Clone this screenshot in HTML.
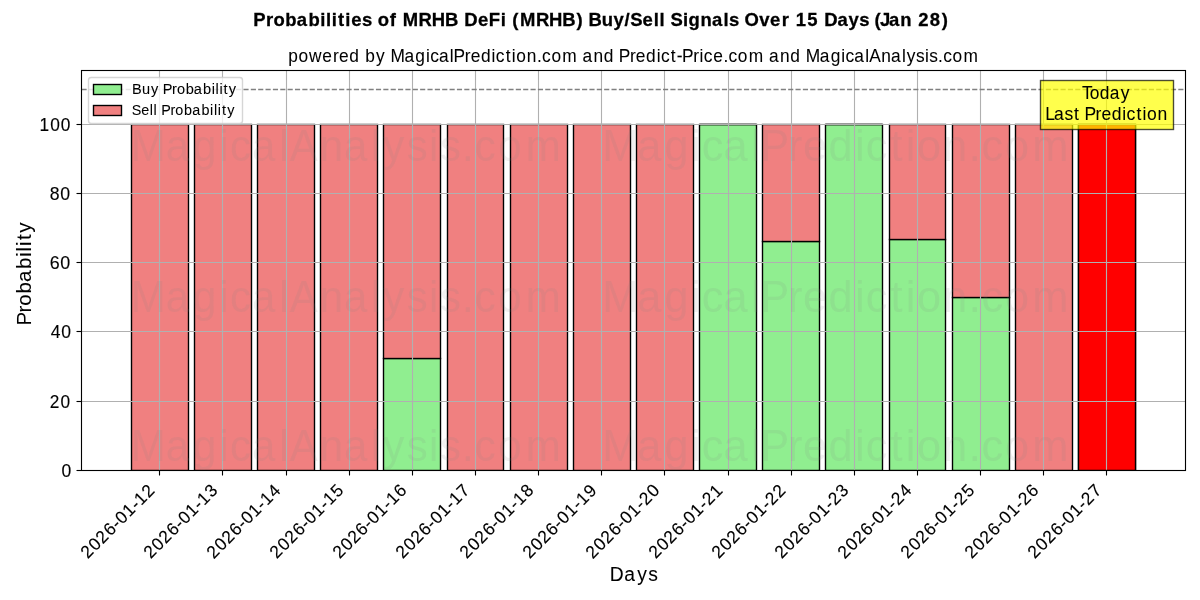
<!DOCTYPE html>
<html><head><meta charset="utf-8"><title>Probabilities of MRHB DeFi (MRHB) Buy/Sell Signals Over 15 Days (Jan 28)</title>
<style>
html,body{margin:0;padding:0;background:#fff}
body{width:1200px;height:600px;overflow:hidden}
svg{display:block;will-change:transform}
text{font-family:"Liberation Sans",sans-serif}
</style></head><body>
<svg id="chart" width="1200" height="600" viewBox="0 0 1200 600">
<rect width="1200" height="600" fill="#ffffff"/>
<g id="gfx">
<defs><clipPath id="axclip"><rect x="81" y="70" width="1104" height="400"/></clipPath></defs>
<g stroke="#000" stroke-width="1.389" clip-path="url(#axclip)">
<line x1="131.5" y1="470.5" x2="188.5" y2="470.5"/>
<line x1="194.5" y1="470.5" x2="251.5" y2="470.5"/>
<line x1="257.5" y1="470.5" x2="314.5" y2="470.5"/>
<line x1="320.5" y1="470.5" x2="377.5" y2="470.5"/>
<rect x="383.5" y="358.5" width="57" height="112" fill="#90ee90"/>
<line x1="447.5" y1="470.5" x2="503.5" y2="470.5"/>
<line x1="510.5" y1="470.5" x2="567.5" y2="470.5"/>
<line x1="573.5" y1="470.5" x2="630.5" y2="470.5"/>
<line x1="636.5" y1="470.5" x2="693.5" y2="470.5"/>
<rect x="699.5" y="124.5" width="57" height="346" fill="#90ee90"/>
<rect x="762.5" y="241.5" width="57" height="229" fill="#90ee90"/>
<rect x="825.5" y="124.5" width="57" height="346" fill="#90ee90"/>
<rect x="889.5" y="239.5" width="56" height="231" fill="#90ee90"/>
<rect x="952.5" y="297.5" width="57" height="173" fill="#90ee90"/>
<line x1="1015.5" y1="470.5" x2="1072.5" y2="470.5"/>
<line x1="1078.5" y1="470.5" x2="1135.5" y2="470.5"/>
<rect x="131.5" y="124.5" width="57" height="346" fill="#f08080"/>
<rect x="194.5" y="124.5" width="57" height="346" fill="#f08080"/>
<rect x="257.5" y="124.5" width="57" height="346" fill="#f08080"/>
<rect x="320.5" y="124.5" width="57" height="346" fill="#f08080"/>
<rect x="383.5" y="124.5" width="57" height="234" fill="#f08080"/>
<rect x="447.5" y="124.5" width="56" height="346" fill="#f08080"/>
<rect x="510.5" y="124.5" width="57" height="346" fill="#f08080"/>
<rect x="573.5" y="124.5" width="57" height="346" fill="#f08080"/>
<rect x="636.5" y="124.5" width="57" height="346" fill="#f08080"/>
<line x1="699.5" y1="124.5" x2="756.5" y2="124.5"/>
<rect x="762.5" y="124.5" width="57" height="117" fill="#f08080"/>
<line x1="825.5" y1="124.5" x2="882.5" y2="124.5"/>
<rect x="889.5" y="124.5" width="56" height="115" fill="#f08080"/>
<rect x="952.5" y="124.5" width="57" height="173" fill="#f08080"/>
<rect x="1015.5" y="124.5" width="57" height="346" fill="#f08080"/>
<rect x="1078.5" y="124.5" width="57" height="346" fill="#f08080"/>
<rect x="1078.5" y="124.5" width="57" height="346" fill="#ff0000"/>
</g>
<g stroke="#b0b0b0" stroke-width="1.111">
<line x1="159.5" y1="70.33" x2="159.5" y2="469.85"/>
<line x1="222.5" y1="70.33" x2="222.5" y2="469.85"/>
<line x1="286.5" y1="70.33" x2="286.5" y2="469.85"/>
<line x1="349.5" y1="70.33" x2="349.5" y2="469.85"/>
<line x1="412.5" y1="70.33" x2="412.5" y2="469.85"/>
<line x1="475.5" y1="70.33" x2="475.5" y2="469.85"/>
<line x1="538.5" y1="70.33" x2="538.5" y2="469.85"/>
<line x1="601.5" y1="70.33" x2="601.5" y2="469.85"/>
<line x1="664.5" y1="70.33" x2="664.5" y2="469.85"/>
<line x1="728.5" y1="70.33" x2="728.5" y2="469.85"/>
<line x1="791.5" y1="70.33" x2="791.5" y2="469.85"/>
<line x1="854.5" y1="70.33" x2="854.5" y2="469.85"/>
<line x1="917.5" y1="70.33" x2="917.5" y2="469.85"/>
<line x1="980.5" y1="70.33" x2="980.5" y2="469.85"/>
<line x1="1043.5" y1="70.33" x2="1043.5" y2="469.85"/>
<line x1="1106.5" y1="70.33" x2="1106.5" y2="469.85"/>
<line x1="80.76" y1="470.5" x2="1185" y2="470.5"/>
<line x1="80.76" y1="401.5" x2="1185" y2="401.5"/>
<line x1="80.76" y1="331.5" x2="1185" y2="331.5"/>
<line x1="80.76" y1="262.5" x2="1185" y2="262.5"/>
<line x1="80.76" y1="193.5" x2="1185" y2="193.5"/>
<line x1="80.76" y1="124.5" x2="1185" y2="124.5"/>
</g>
<line x1="81.5" y1="89.5" x2="1185.5" y2="89.5" stroke="#808080" stroke-width="1.389" stroke-dasharray="5.139 2.222"/>
<g stroke="#000" stroke-width="1.111">
<line x1="159.5" y1="470.5" x2="159.5" y2="475.5"/>
<line x1="222.5" y1="470.5" x2="222.5" y2="475.5"/>
<line x1="286.5" y1="470.5" x2="286.5" y2="475.5"/>
<line x1="349.5" y1="470.5" x2="349.5" y2="475.5"/>
<line x1="412.5" y1="470.5" x2="412.5" y2="475.5"/>
<line x1="475.5" y1="470.5" x2="475.5" y2="475.5"/>
<line x1="538.5" y1="470.5" x2="538.5" y2="475.5"/>
<line x1="601.5" y1="470.5" x2="601.5" y2="475.5"/>
<line x1="664.5" y1="470.5" x2="664.5" y2="475.5"/>
<line x1="728.5" y1="470.5" x2="728.5" y2="475.5"/>
<line x1="791.5" y1="470.5" x2="791.5" y2="475.5"/>
<line x1="854.5" y1="470.5" x2="854.5" y2="475.5"/>
<line x1="917.5" y1="470.5" x2="917.5" y2="475.5"/>
<line x1="980.5" y1="470.5" x2="980.5" y2="475.5"/>
<line x1="1043.5" y1="470.5" x2="1043.5" y2="475.5"/>
<line x1="1106.5" y1="470.5" x2="1106.5" y2="475.5"/>
<line x1="76.5" y1="470.5" x2="81.5" y2="470.5"/>
<line x1="76.5" y1="401.5" x2="81.5" y2="401.5"/>
<line x1="76.5" y1="331.5" x2="81.5" y2="331.5"/>
<line x1="76.5" y1="262.5" x2="81.5" y2="262.5"/>
<line x1="76.5" y1="193.5" x2="81.5" y2="193.5"/>
<line x1="76.5" y1="124.5" x2="81.5" y2="124.5"/>
</g>
<rect x="81.5" y="70.5" width="1104" height="400" fill="none" stroke="#000" stroke-width="1.111"/>
<rect x="1040.5" y="80.5" width="133" height="49" fill="#ffff00" fill-opacity="0.7" stroke="#000" stroke-opacity="0.7" stroke-width="1.389"/>
</g>
<g id="texts" fill="#000">
<text id="t_suptitle" transform="translate(253.12 25.82) scale(1.055 1)" x="0.07 12.242 19.412 30.561 41.316 52.484 63.652 69.056 74.459 80.363 87.399 92.924 103.131 112.591 118.164 129.488 135.769 141.828 156.872 169.382 181.963 194.293 200.116 213.275 223.409 234.614 239.731 245.536 252.995 268.039 280.55 293.13 306.539 312.665 317.839 330.438 341.609 352.123 357.359 369.188 379.758 385.162 390.279 395.701 407.407 412.754 424.102 434.905 445.956 450.997 460.457 465.862 479.64 490.031 501.003 508.089 514.249 525.211 535.516 541.339 553.962 564.471 574.453 583.913 588.893 594.322 602.82 613.403 624.333 630.438 641.406 652.837" y="0" font-size="17.5" font-weight="bold" stroke="#000" stroke-width="0.27">Probabilities of MRHB DeFi (MRHB) Buy/Sell Signals Over 15 Days (Jan 28)</text>
<text id="t_title" transform="translate(287.712 61.877) scale(0.99 1)" x="0.583 10.944 21.484 35.005 45.864 51.857 62.214 72.499 78.419 89.094 98.428 103.741 117.91 128.91 139.598 143.913 152.75 163.772 167.564 178.789 184.783 195.14 205.827 210.142 220.145 226.305 230.853 241.342 251.715 256.869 266.333 277.272 292.673 297.669 308.801 319.31 329.595 334.452 345.678 351.672 362.028 372.716 377.031 387.033 392.914 398.37 409.596 416.026 420.341 429.863 440.083 445.238 454.702 465.641 481.041 486.038 497.17 507.679 517.964 523.276 537.446 548.446 559.133 563.449 572.286 583.308 587.495 599.567 609.364 620.386 625.258 634.719 643.742 648.131 656.986 662.141 671.604 682.544" y="0" font-size="17.5" stroke="#000" stroke-width="0.05">powered by MagicalPrediction.com and Predict-Price.com and MagicalAnalysis.com</text>
<text id="t_xlabel" transform="translate(609.322 581.033) scale(0.946 1)" x="0.59 15.733 29.461 41.071" y="0" font-size="20.417" stroke="#000" stroke-width="0.05">Days</text>
<text id="t_y0" transform="translate(61.078 476.88) scale(0.994 1)" x="0.415" y="0" font-size="17.667" stroke="#000" stroke-width="0.12">0</text>
<text id="t_y20" transform="translate(49.363 407.999) scale(0.977 1)" x="0.285 11.337" y="0" font-size="17.667" stroke="#000" stroke-width="0.12">20</text>
<text id="t_y40" transform="translate(50.278 337.648) scale(0.995 1)" x="0.413 11.05" y="0" font-size="17.667" stroke="#000" stroke-width="0.12">40</text>
<text id="t_y60" transform="translate(49.428 268.757) scale(1.012 1)" x="0.325 10.781" y="0" font-size="17.667" stroke="#000" stroke-width="0.12">60</text>
<text id="t_y80" transform="translate(49.418 200.136) scale(1 1)" x="0.386 10.966" y="0" font-size="17.667" stroke="#000" stroke-width="0.12">80</text>
<text id="t_y100" transform="translate(39.213 130.855) scale(0.981 1)" x="0.402 11.277 22.064" y="0" font-size="17.667" stroke="#000" stroke-width="0.12">100</text>
<text id="t_x2026-01-12" transform="translate(87.688 559.539) rotate(-45) scale(0.98 1)" x="0.27 11.289 21.86 32.881 43.308 49.797 60.504 71.02 77.422 88.081" y="0" font-size="17.667" stroke="#000" stroke-width="0.12">2026-01-12</text>
<text id="t_x2026-01-13" transform="translate(150.643 559.509) rotate(-45) scale(0.979 1)" x="0.273 11.298 21.874 32.901 43.331 49.825 60.538 71.058 77.464 88.375" y="0" font-size="17.667" stroke="#000" stroke-width="0.12">2026-01-13</text>
<text id="t_x2026-01-14" transform="translate(213.597 559.581) rotate(-45) scale(0.984 1)" x="0.248 11.222 21.749 32.724 43.115 49.57 60.231 70.713 77.078 87.915" y="0" font-size="17.667" stroke="#000" stroke-width="0.12">2026-01-14</text>
<text id="t_x2026-01-15" transform="translate(276.633 559.481) rotate(-45) scale(0.977 1)" x="0.283 11.329 21.925 32.974 43.42 49.93 60.664 71.201 77.623 88.466" y="0" font-size="17.667" stroke="#000" stroke-width="0.12">2026-01-15</text>
<text id="t_x2026-01-16" transform="translate(339.618 559.491) rotate(-45) scale(0.988 1)" x="0.229 11.161 21.648 32.581 42.94 49.362 59.983 70.433 76.766 87.566" y="0" font-size="17.667" stroke="#000" stroke-width="0.12">2026-01-16</text>
<text id="t_x2026-01-17" transform="translate(402.674 559.471) rotate(-45) scale(0.981 1)" x="0.262 11.263 21.817 32.821 43.234 49.71 60.399 70.902 77.29 88.122" y="0" font-size="17.667" stroke="#000" stroke-width="0.12">2026-01-17</text>
<text id="t_x2026-01-18" transform="translate(466.629 559.521) rotate(-45) scale(0.985 1)" x="0.243 11.204 21.719 32.681 43.063 49.508 60.157 70.629 76.985 87.812" y="0" font-size="17.667" stroke="#000" stroke-width="0.12">2026-01-18</text>
<text id="t_x2026-01-19" transform="translate(529.645 559.471) rotate(-45) scale(0.987 1)" x="0.23 11.164 21.654 32.589 42.951 49.375 59.998 70.45 76.785 87.532" y="0" font-size="17.667" stroke="#000" stroke-width="0.12">2026-01-19</text>
<text id="t_x2026-01-20" transform="translate(592.61 559.551) rotate(-45) scale(0.985 1)" x="0.245 11.211 21.731 32.698 43.084 49.532 60.186 70.662 76.887 87.853" y="0" font-size="17.667" stroke="#000" stroke-width="0.12">2026-01-20</text>
<text id="t_x2026-01-21" transform="translate(655.647 559.529) rotate(-45) scale(0.98 1)" x="0.27 11.289 21.86 32.881 43.308 49.797 60.504 71.02 77.286 88.217" y="0" font-size="17.667" stroke="#000" stroke-width="0.12">2026-01-21</text>
<text id="t_x2026-01-22" transform="translate(718.633 559.529) rotate(-45) scale(0.981 1)" x="0.266 11.276 21.839 32.851 43.271 49.753 60.452 70.961 77.22 88.006" y="0" font-size="17.667" stroke="#000" stroke-width="0.12">2026-01-22</text>
<text id="t_x2026-01-23" transform="translate(781.628 559.529) rotate(-45) scale(0.98 1)" x="0.268 11.285 21.852 32.87 43.294 49.781 60.485 70.999 77.262 88.3" y="0" font-size="17.667" stroke="#000" stroke-width="0.12">2026-01-23</text>
<text id="t_x2026-01-24" transform="translate(844.612 559.551) rotate(-45) scale(0.985 1)" x="0.245 11.21 21.729 32.695 43.08 49.528 60.181 70.657 76.881 87.845" y="0" font-size="17.667" stroke="#000" stroke-width="0.12">2026-01-24</text>
<text id="t_x2026-01-25" transform="translate(907.628 559.441) rotate(-45) scale(0.978 1)" x="0.278 11.316 21.904 32.943 43.383 49.886 60.611 71.14 77.419 88.39" y="0" font-size="17.667" stroke="#000" stroke-width="0.12">2026-01-25</text>
<text id="t_x2026-01-26" transform="translate(971.643 559.481) rotate(-45) scale(0.988 1)" x="0.225 11.149 21.628 32.553 42.906 49.322 59.934 70.378 76.572 87.497" y="0" font-size="17.667" stroke="#000" stroke-width="0.12">2026-01-26</text>
<text id="t_x2026-01-27" transform="translate(1034.649 559.451) rotate(-45) scale(0.982 1)" x="0.258 11.251 21.796 32.791 43.197 49.667 60.348 70.844 77.09 88.049" y="0" font-size="17.667" stroke="#000" stroke-width="0.12">2026-01-27</text>
<text id="t_ylabel" transform="translate(30.857 324.955) rotate(-90) scale(1.003 1)" x="-0.64 12.313 19.236 31.474 42.753 55.737 67.919 73.313 78.726 84.608 91.948" y="0" font-size="20.417" stroke="#000" stroke-width="0.05">Probability</text>
</g>
<g fill="#000">
<text id="t_ann0" transform="translate(1082.086 99.065) scale(0.992 1)" x="-0.211 7.611 17.946 27.868 39.074" y="0" font-size="17.5" stroke="#000" stroke-width="0.05">Today</text>
<text id="t_ann1" transform="translate(1045.046 119.855) scale(1.002 1)" x="0.109 8.84 19.475 28.827 34.545 39.268 50.391 56.293 66.525 77.116 81.347 91.252 97.344 101.801 112.162" y="0" font-size="17.5" stroke="#000" stroke-width="0.05">Last Prediction</text>
</g>
<g fill="#808080" fill-opacity="0.12">
<text id="t_wm0" transform="translate(130.18 161.29) scale(0.961 1)" x="0.499 36.909 65.251 92.623 103.959 126.822 155.011 166.118 197.197 222.511 250.7 263.458 287.873 310.974 322.484 345.193 358.656 383.105 411.52" y="0" font-size="43.75">MagicalAnalysis.com</text>
<text id="t_wm1" transform="translate(602.2 161.03) scale(0.99 1)" x="-0.062 35.413 62.949 89.705 100.509 122.635 150.226 159.719 187.693 202.765 228.692 255.448 266.252 291.29 306.714 318.101 344.359 370.329 383.233 406.924 434.307" y="0" font-size="43.75">MagicalPrediction.com</text>
<text id="t_wm2" transform="translate(130.18 311.79) scale(0.961 1)" x="0.499 36.909 65.251 92.623 103.959 126.822 155.011 166.118 197.197 222.511 250.7 263.458 287.873 310.974 322.484 345.193 358.656 383.105 411.52" y="0" font-size="43.75">MagicalAnalysis.com</text>
<text id="t_wm3" transform="translate(602.2 311.53) scale(0.99 1)" x="-0.062 35.413 62.949 89.705 100.509 122.635 150.226 159.719 187.693 202.765 228.692 255.448 266.252 291.29 306.714 318.101 344.359 370.329 383.233 406.924 434.307" y="0" font-size="43.75">MagicalPrediction.com</text>
<text id="t_wm4" transform="translate(130.18 461.29) scale(0.961 1)" x="0.499 36.909 65.251 92.623 103.959 126.822 155.011 166.118 197.197 222.511 250.7 263.458 287.873 310.974 322.484 345.193 358.656 383.105 411.52" y="0" font-size="43.75">MagicalAnalysis.com</text>
<text id="t_wm5" transform="translate(602.2 461.03) scale(0.99 1)" x="-0.062 35.413 62.949 89.705 100.509 122.635 150.226 159.719 187.693 202.765 228.692 255.448 266.252 291.29 306.714 318.101 344.359 370.329 383.233 406.924 434.307" y="0" font-size="43.75">MagicalPrediction.com</text>
</g>
<g id="legend">
<rect x="88.5" y="77.5" width="154" height="46" rx="2.78" ry="2.78" fill="#ffffff" fill-opacity="0.8" stroke="#cccccc" stroke-opacity="0.8" stroke-width="1.389"/>
<rect x="93.5" y="84.5" width="28" height="10" fill="#90ee90" stroke="#000" stroke-width="1.389"/>
<rect x="93.5" y="105.5" width="28" height="10" fill="#f08080" stroke="#000" stroke-width="1.389"/>
<g fill="#000">
<text id="t_leg0" transform="translate(132.219 93.81) scale(0.999 1)" x="-0.116 9.855 18.805 26.562 30.54 39.807 44.772 53.517 61.573 70.852 79.544 83.398 87.265 91.471 96.721" y="0" font-size="14.583" stroke="#000" stroke-width="0.05">Buy Probability</text>
<text id="t_leg1" transform="translate(132.079 114.814) scale(0.986 1)" x="-0.317 9.238 17.926 21.835 25.408 29.501 38.856 43.901 52.759 60.919 70.314 79.084 82.986 86.903 91.167 96.504" y="0" font-size="14.583" stroke="#000" stroke-width="0.05">Sell Probability</text>
</g>
</g>
</svg>
</body></html>
